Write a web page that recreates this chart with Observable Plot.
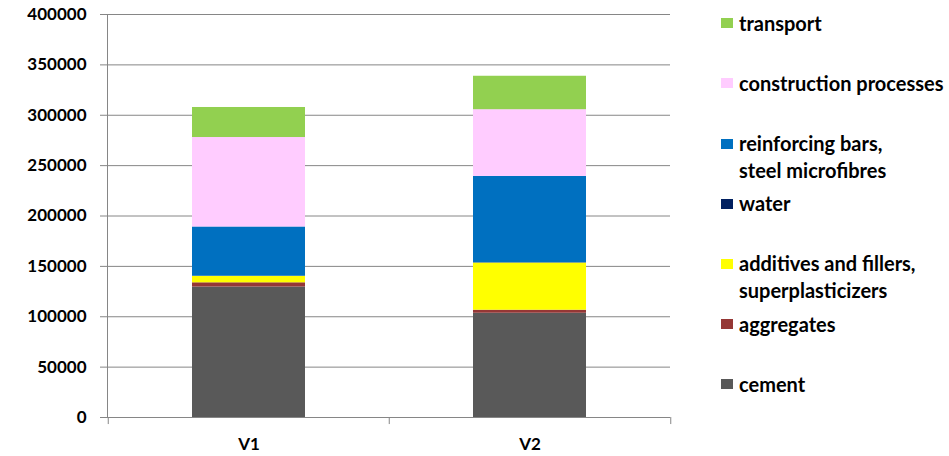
<!DOCTYPE html>
<html>
<head>
<meta charset="utf-8">
<script src="https://cdn.jsdelivr.net/npm/d3@7"></script>
<script src="https://cdn.jsdelivr.net/npm/@observablehq/plot@0.6"></script>
<style>
  html, body { margin: 0; padding: 0; background: #fff; }
  #wrap { position: relative; width: 949px; height: 456px; font-family: Lato, "Open Sans", sans-serif; font-weight: bold; color: #000; }
  #legend { position: absolute; left: 721px; top: 0; }
  .item { position: absolute; left: 0; white-space: nowrap; font-size: 20px; line-height: 26.7px; }
  .sw { position: absolute; left: 0; top: 8.5px; width: 12px; height: 10px; }
  .lbl { position: absolute; left: 18px; top: 0; }
</style>
</head>
<body>
<div id="wrap"><div id="chart"></div><div id="legend"></div></div>
<script>
const categories = ["V1", "V2"];
const components = [
  "cement",
  "aggregates",
  "additives and fillers, superplasticizers",
  "water",
  "reinforcing bars, steel microfibres",
  "construction processes",
  "transport"
];
const legendLines = [
  ["cement"],
  ["aggregates"],
  ["additives and fillers,", "superplasticizers"],
  ["water"],
  ["reinforcing bars,", "steel microfibres"],
  ["construction processes"],
  ["transport"]
];
const colors = ["#595959", "#953735", "#FFFF00", "#002060", "#0070C0", "#FFCCFF", "#92D050"];
const v1Values = [129500, 4200, 6300, 300, 48800, 88800, 29800];
const v2Values = [103500, 3000, 46800, 300, 85700, 66200, 33200];
const yTicks = [0, 50000, 100000, 150000, 200000, 250000, 300000, 350000, 400000];

const data = [];
components.forEach((c, i) => {
  data.push({category: "V1", component: c, value: v1Values[i]});
  data.push({category: "V2", component: c, value: v2Values[i]});
});

const gray = "#868686";
const chart = Plot.plot({
  width: 949,
  height: 456,
  marginLeft: 107,
  marginRight: 279,
  marginTop: 14,
  marginBottom: 39,
  style: {fontFamily: "Lato, 'Open Sans', sans-serif", fontWeight: "bold", fontSize: "17px", color: "#000", background: "#fff"},
  x: {domain: categories, padding: 0, label: null},
  y: {domain: [0, 400000], label: null},
  color: {domain: components, range: colors},
  marks: [
    Plot.gridY(yTicks, {stroke: gray, strokeOpacity: 1}),
    Plot.barY(data, Plot.stackY({x: "category", y: "value", fill: "component", order: components, insetLeft: 84, insetRight: 84})),
    Plot.ruleY([0], {stroke: gray}),
    Plot.frame({anchor: "left", stroke: gray}),
    Plot.axisY(yTicks, {tickSize: 7, tickPadding: 14, tickFormat: d => String(d), stroke: gray, label: null, fill: "#000"}),
    Plot.axisX({tickSize: 0, tickPadding: 20, label: null, fill: "#000"}),
    Plot.ruleX(categories, {x: d => d, dx: -140.75, y1: 0, y2: -7000, stroke: gray}),
    Plot.ruleX(categories.slice(-1), {x: d => d, dx: 140.75, y1: 0, y2: -7000, stroke: gray})
  ]
});
document.getElementById("chart").appendChild(chart);

const legend = document.getElementById("legend");
const order = components.map((c, i) => i).reverse();
order.forEach((ci, k) => {
  const item = document.createElement("div");
  item.className = "item";
  item.style.top = (9.6 + 60.2 * k) + "px";
  const sw = document.createElement("div");
  sw.className = "sw";
  sw.style.background = colors[ci];
  item.appendChild(sw);
  const lbl = document.createElement("div");
  lbl.className = "lbl";
  lbl.innerHTML = legendLines[ci].join("<br>");
  item.appendChild(lbl);
  legend.appendChild(item);
});
</script>
</body>
</html>
